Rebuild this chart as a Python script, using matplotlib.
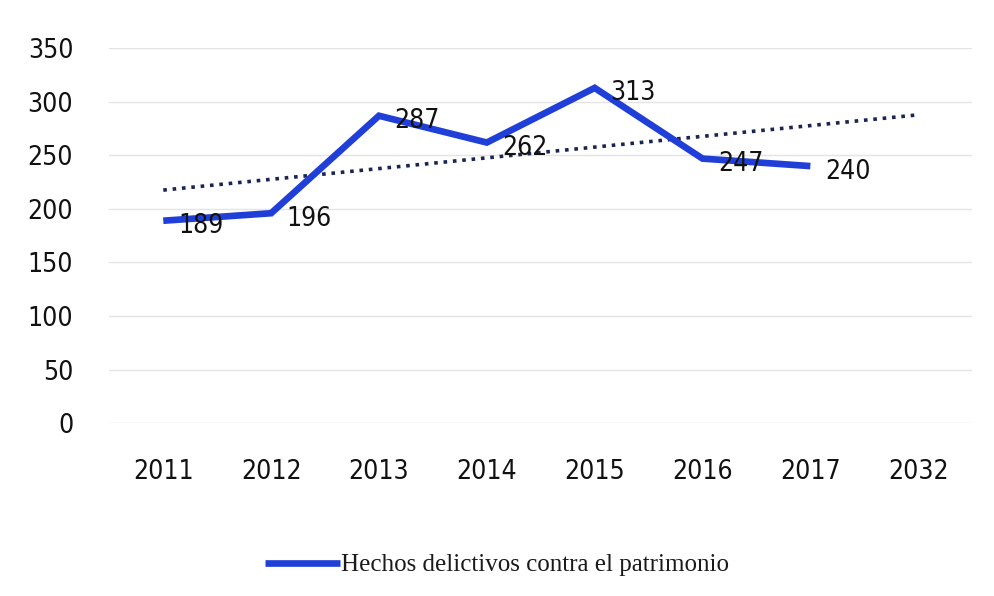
import numpy as np
import matplotlib
matplotlib.use("Agg")
import matplotlib.pyplot as plt

years = ["2011", "2012", "2013", "2014", "2015", "2016", "2017", "2032"]
values = [189, 196, 287, 262, 313, 247, 240, np.nan]
series_name = "Hechos delictivos contra el patrimonio"
yticks = [0, 50, 100, 150, 200, 250, 300, 350]

plt.rcParams['font.family'] = ['DejaVu Sans']
plt.rcParams['font.stretch'] = 'condensed'

fig = plt.figure(figsize=(9.94, 5.96), dpi=100)
ax = fig.add_axes([0.11, 0.29, 0.868, 0.629])

x = np.arange(len(years))
y = np.array(values, dtype=float)
ok = ~np.isnan(y)

# linear trend from the observed years, extended to the last category
coef = np.polyfit(x[ok], y[ok], 1)
ax.plot(x, np.polyval(coef, x), linestyle=(0, (1, 1.6)), color='#1b2553',
        linewidth=2.6, zorder=2)

ax.plot(x[ok], y[ok], color='#1f3fd8', linewidth=4.8, solid_capstyle='butt',
        solid_joinstyle='miter', label=series_name, zorder=3)

for xi, yi in zip(x[ok], y[ok]):
    ax.annotate(f"{int(yi)}", (xi, yi), xytext=(11, -4), textcoords='offset points',
                ha='left', va='center', fontsize=19, color='#111111', zorder=4)

ax.set_xlim(-0.5, len(years) - 0.5)
ax.set_ylim(0, 350)
ax.set_xticks(x)
ax.set_xticklabels(years)
ax.set_yticks(yticks)
ax.tick_params(axis='both', length=0, labelsize=19, colors='#111111')
ax.tick_params(axis='x', pad=26)
ax.tick_params(axis='y', pad=26)
ax.grid(axis='y', color='#e4e4e4', linewidth=1)
ax.set_axisbelow(True)
for s in ax.spines.values():
    s.set_visible(False)

leg = fig.legend(loc='center', bbox_to_anchor=(0.5, 0.052), frameon=False,
                 handlelength=3.0, handletextpad=0.05,
                 prop={'family': 'Liberation Serif', 'size': 18})
for t in leg.get_texts():
    t.set_color('#1a1a1a')

fig.savefig("out.png", dpi=100)
